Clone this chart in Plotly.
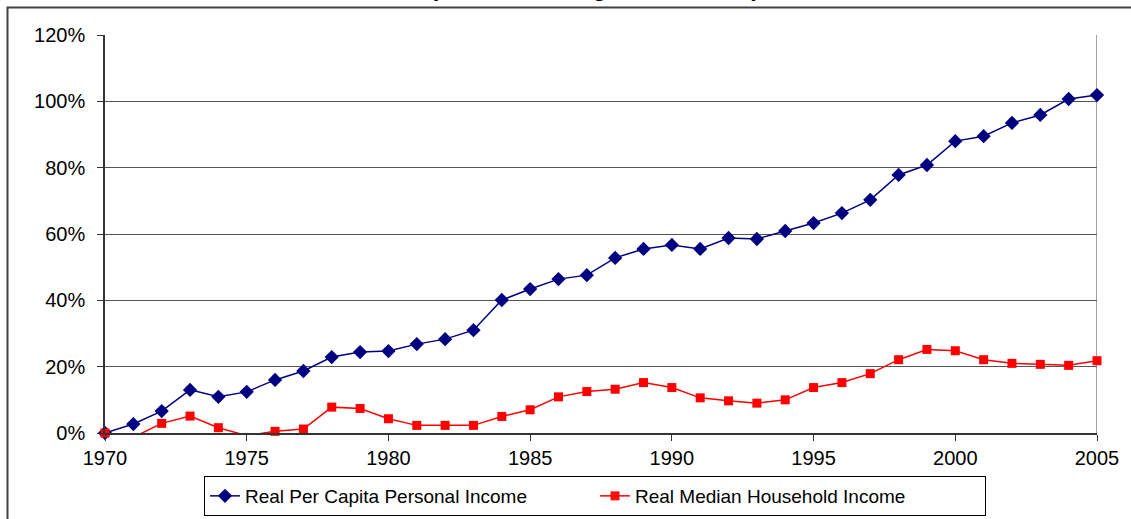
import plotly.graph_objects as go

# Cumulative real income growth since 1970, in percent
years = list(range(1970, 2006))
per_capita = [0.0, 2.7, 6.6, 13.0, 10.9, 12.4, 16.0, 18.7, 22.9, 24.4,
              24.7, 26.8, 28.3, 31.0, 40.1, 43.4, 46.4, 47.6, 52.8, 55.5,
              56.7, 55.5, 58.8, 58.5, 60.9, 63.3, 66.3, 70.3, 77.8, 80.8,
              88.0, 89.5, 93.5, 95.9, 100.7, 101.9]
median_household = [0.0, -1.3, 2.9, 5.1, 1.6, -0.8, 0.5, 1.2, 7.8, 7.4,
                    4.3, 2.3, 2.3, 2.3, 5.0, 7.0, 10.9, 12.5, 13.2, 15.2,
                    13.7, 10.6, 9.7, 9.0, 10.0, 13.7, 15.2, 17.9, 22.1, 25.2,
                    24.8, 22.1, 21.0, 20.7, 20.4, 21.8]
y_ticks = [0, 20, 40, 60, 80, 100, 120]
y_labels = ["0%", "20%", "40%", "60%", "80%", "100%", "120%"]
x_ticks = [1970, 1975, 1980, 1985, 1990, 1995, 2000, 2005]

W, H = 1131, 519
L, R, T, B = 105, 34, 35, 86
plot_w = W - L - R
plot_h = H - T - B

def px_x(p):
    return (p - L) / plot_w

def px_y(p):
    return (H - B - p) / plot_h

FONT = "Liberation Sans, Arial, sans-serif"
FS = 20

fig = go.Figure()
fig.add_trace(go.Scatter(
    x=years, y=per_capita, mode="lines+markers",
    name="Real Per Capita Personal Income",
    line=dict(color="#000080", width=1.5),
    marker=dict(symbol="diamond", size=11, color="#000080"),
    cliponaxis=False,
))
fig.add_trace(go.Scatter(
    x=years, y=median_household, mode="lines+markers",
    name="Real Median Household Income",
    line=dict(color="#FF0000", width=1.5),
    marker=dict(symbol="square", size=9, color="#FF0000",
                opacity=[0 if v < 0 else 1 for v in median_household]),
    cliponaxis=False,
))

shapes = [
    # outer chart frame
    dict(type="rect", xref="paper", yref="paper",
         x0=px_x(7.5), x1=1.3, y0=-0.6, y1=px_y(7.5),
         line=dict(color="#404040", width=2), layer="below"),
    # right border of the plot area
    dict(type="line", xref="x", yref="y", x0=2005, x1=2005, y0=0, y1=120,
         line=dict(color="#808080", width=1.5), layer="below"),
]

fig.update_layout(
    width=W, height=H,
    margin=dict(l=L, r=R, t=T, b=B, autoexpand=False),
    paper_bgcolor="white", plot_bgcolor="white",
    font=dict(family=FONT, size=FS, color="black"),
    showlegend=True,
    legend=dict(
        orientation="h", x=595 / W, xanchor="center", xref="container",
        y=1 - 516 / H, yanchor="bottom", yref="container",
        bordercolor="black", borderwidth=1,
        font=dict(family=FONT, size=19, color="black"),
        entrywidth=345, tracegroupgap=0, valign="middle",
    ),
    shapes=shapes,
    annotations=[dict(
        text="<b>(Percent Change Since 1970)</b>",
        xref="paper", yref="paper", x=px_x(594), y=px_y(3),
        xanchor="center", yanchor="bottom", showarrow=False,
        font=dict(family=FONT, size=24, color="black"),
    )],
)

fig.update_xaxes(
    range=[1970, 2005], tickvals=x_ticks,
    showgrid=False, zeroline=False, automargin=False,
    showline=True, linecolor="#333333", linewidth=1.5,
    ticks="outside", ticklen=6, tickcolor="#333333",
    tickfont=dict(family=FONT, size=FS, color="black"),
)
fig.update_yaxes(
    range=[0, 120], tickvals=y_ticks, ticktext=y_labels,
    showgrid=True, gridcolor="#555555", gridwidth=1,
    zeroline=False, automargin=False,
    showline=True, linecolor="#333333", linewidth=1.5,
    ticks="outside", ticklen=6, tickcolor="#333333",
    ticklabelstandoff=8,
    tickfont=dict(family=FONT, size=FS, color="black"),
)

fig.write_html("out.html")
